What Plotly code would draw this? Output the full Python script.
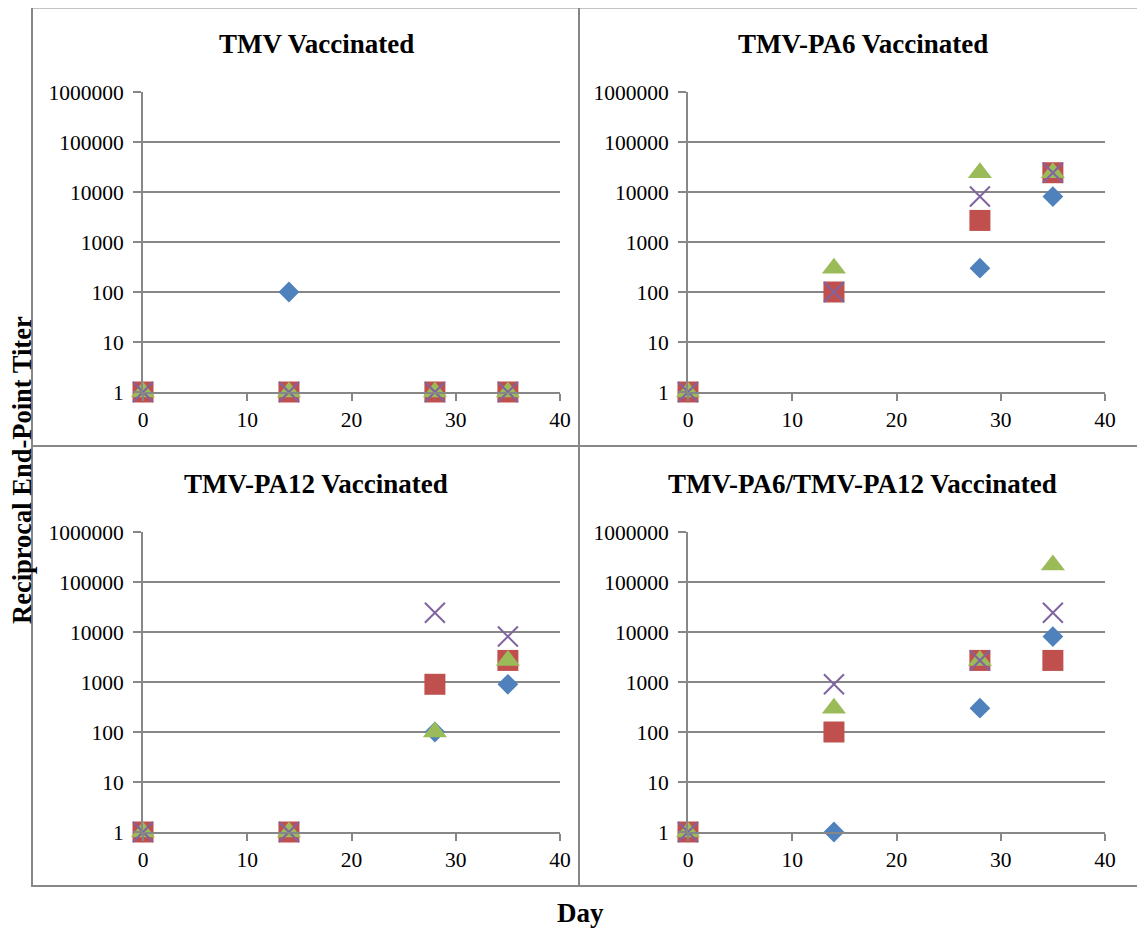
import plotly.graph_objects as go

# page body has an 8px margin, so the figure is drawn 8px in from the top-left
OFF = 8
W, H = 1145 - OFF, 930 - OFF

days = [0, 14, 28, 35]

panel_titles = [
    "TMV Vaccinated",
    "TMV-PA6 Vaccinated",
    "TMV-PA12 Vaccinated",
    "TMV-PA6/TMV-PA12 Vaccinated",
]

# series per panel: blue diamond, red square, green triangle, purple x
tmv_blue = [1, 100, 1, 1]
tmv_red = [1, 1, 1, 1]
tmv_green = [1, 1, 1, 1]
tmv_purple = [1, 1, 1, 1]

pa6_blue = [1, 100, 300, 8100]
pa6_red = [1, 100, 2700, 24300]
pa6_green = [1, 300, 24300, 24300]
pa6_purple = [1, 100, 8100, 24300]

pa12_blue = [1, 1, 100, 900]
pa12_red = [1, 1, 900, 2700]
pa12_green = [1, 1, 100, 2700]
pa12_purple = [1, 1, 24300, 8100]

combo_blue = [1, 1, 300, 8100]
combo_red = [1, 100, 2700, 2700]
combo_green = [1, 300, 2700, 218700]
combo_purple = [1, 900, 2700, 24300]

y_tickvals = [1, 10, 100, 1000, 10000, 100000, 1000000]
y_ticktext = ["1", "10", "100", "1000", "10000", "100000", "1000000"]
x_tickvals = [0, 10, 20, 30, 40]

panels = [
    (tmv_blue, tmv_red, tmv_green, tmv_purple),
    (pa6_blue, pa6_red, pa6_green, pa6_purple),
    (pa12_blue, pa12_red, pa12_green, pa12_purple),
    (combo_blue, combo_red, combo_green, combo_purple),
]

series_style = [
    dict(symbol="diamond", size=16, color="#4F81BD"),
    dict(symbol="square", size=21, color="#C0504D"),
    dict(symbol="triangle-up", size=21, color="#9BBB59"),
    dict(symbol="x-thin", size=20, color="#8064A2"),
]

def px_x(p):
    return (p - OFF) / W

def px_y(p):
    return 1 - (p - OFF) / H

# plot area pixel boxes (reference pixels): (x_left, x_right, y_top, y_bottom)
boxes = [
    (143, 560, 92, 392),
    (688, 1105, 92, 392),
    (143, 560, 532, 832),
    (688, 1105, 532, 832),
]
title_pos = [(316, 44), (863, 44), (316, 484), (863, 484)]

GRID = "#878787"
SERIF = "Liberation Serif"
TICK_SIZE = 21.5
BOLD_SIZE = 27

fig = go.Figure()
layout = dict(
    width=W, height=H,
    margin=dict(l=0, r=0, t=0, b=0, pad=0, autoexpand=False),
    paper_bgcolor="white", plot_bgcolor="white",
    showlegend=False,
    font=dict(family=SERIF, size=TICK_SIZE, color="black"),
)

for i, (vals, box, tp) in enumerate(zip(panels, boxes, title_pos)):
    n = "" if i == 0 else str(i + 1)
    xa, ya = "x" + n, "y" + n
    for v, st in zip(vals, series_style):
        marker = dict(symbol=st["symbol"], size=st["size"], color=st["color"])
        if st["symbol"] == "x-thin":
            marker["line"] = dict(color=st["color"], width=2)
        else:
            marker["line"] = dict(width=0)
        fig.add_trace(go.Scatter(
            x=days, y=v, mode="markers", marker=marker,
            xaxis=xa, yaxis=ya, cliponaxis=False, hoverinfo="x+y",
        ))
    x0, x1, y0, y1 = box
    layout["xaxis" + n] = dict(
        domain=[px_x(x0), px_x(x1)], anchor=ya, range=[0, 40],
        tickvals=x_tickvals, ticks="outside", ticklen=7, tickwidth=2,
        tickcolor=GRID, showline=True, linecolor=GRID, linewidth=2,
        showgrid=False, zeroline=False, automargin=False,
        tickfont=dict(family=SERIF, size=TICK_SIZE, color="black"),
    )
    layout["yaxis" + n] = dict(
        domain=[px_y(y1), px_y(y0)], anchor=xa, type="log", range=[0, 6],
        tickvals=y_tickvals, ticktext=y_ticktext, ticks="outside",
        ticklen=8, tickwidth=2, tickcolor=GRID, ticklabelstandoff=5,
        showline=True, linecolor=GRID, linewidth=2,
        showgrid=True, gridcolor=GRID, gridwidth=2, zeroline=False,
        automargin=False,
        tickfont=dict(family=SERIF, size=TICK_SIZE, color="black"),
    )
    fig.add_annotation(
        x=px_x(tp[0]), y=px_y(tp[1]), xref="paper", yref="paper",
        text="<b>" + panel_titles[i] + "</b>", showarrow=False,
        font=dict(family=SERIF, size=BOLD_SIZE, color="black"),
        xanchor="center", yanchor="middle",
    )

fig.add_annotation(
    x=px_x(22), y=px_y(470), xref="paper", yref="paper",
    text="<b>Reciprocal End-Point Titer</b>", textangle=-90, showarrow=False,
    font=dict(family=SERIF, size=26.5, color="black"),
    xanchor="center", yanchor="middle", borderpad=0,
)
fig.add_annotation(
    x=px_x(580), y=px_y(913), xref="paper", yref="paper",
    text="<b>Day</b>", showarrow=False,
    font=dict(family=SERIF, size=BOLD_SIZE, color="black"),
    xanchor="center", yanchor="middle",
)

# panel borders
BORDER = "#878787"
shapes = []
for (a, b, c, d) in [(32, 579, 7.5, 446), (579, 1160, 7.5, 446),
                     (32, 579, 446, 886), (579, 1160, 446, 886)]:
    shapes.append(dict(type="rect", xref="paper", yref="paper",
                       x0=px_x(a), x1=px_x(b), y0=px_y(d), y1=px_y(c),
                       line=dict(color=BORDER, width=2), layer="below"))
layout["shapes"] = shapes

fig.update_layout(**layout)
fig.write_html("out.html")
